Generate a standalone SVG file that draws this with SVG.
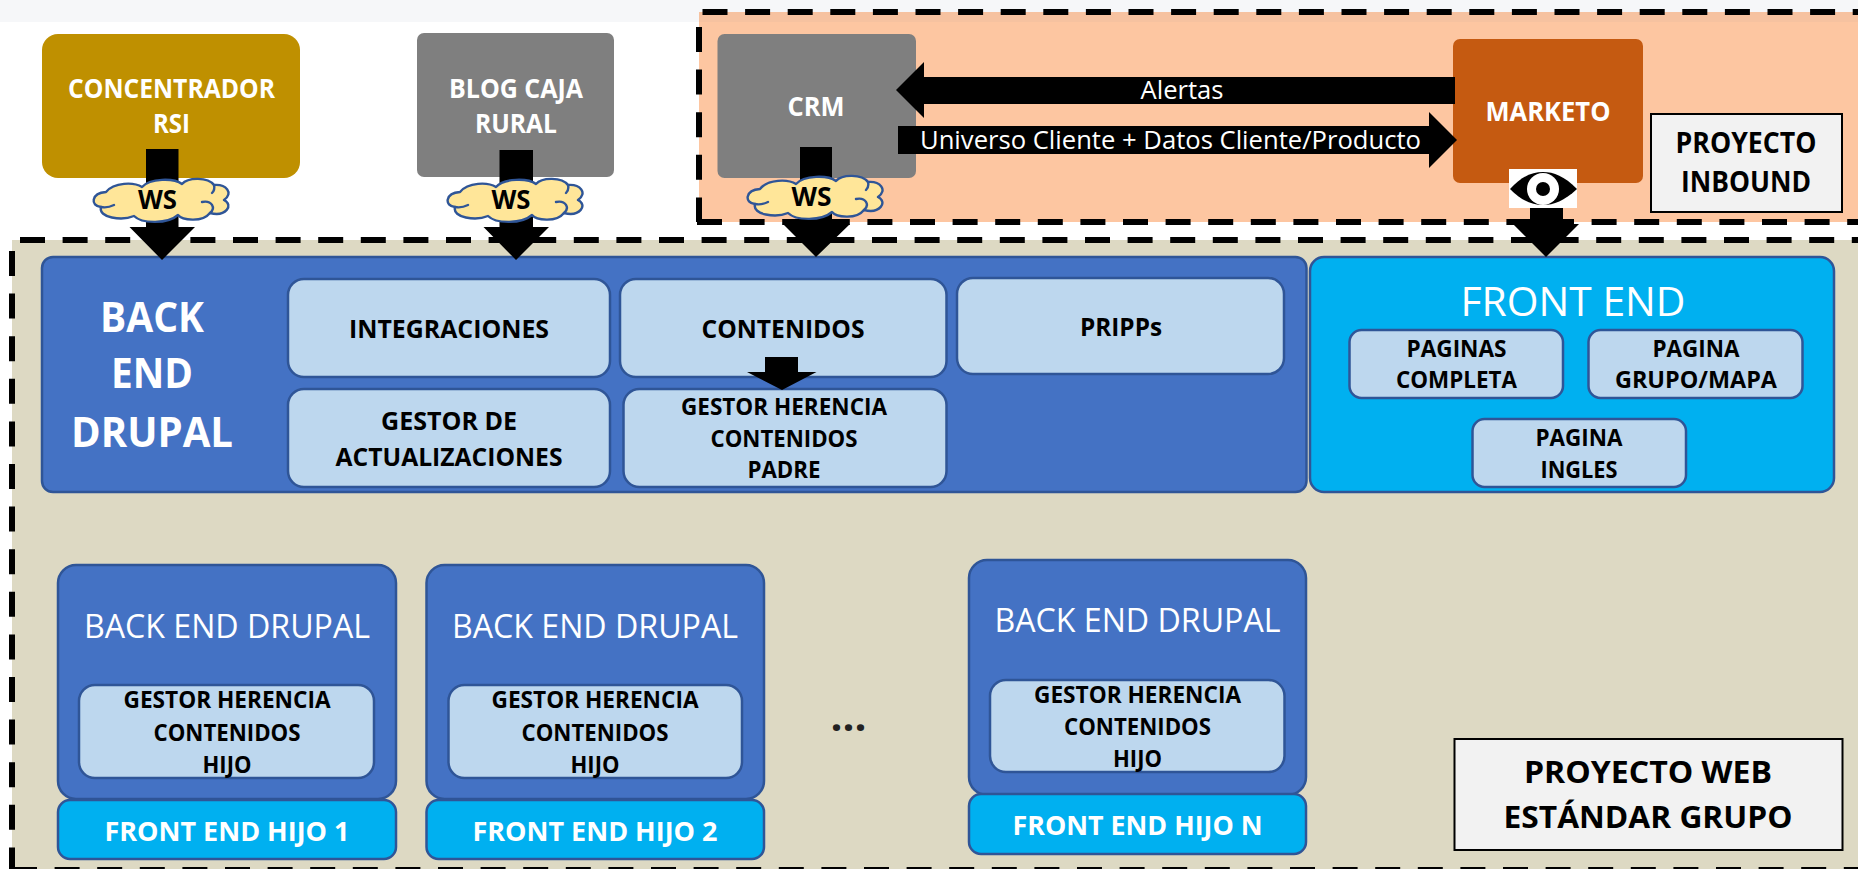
<svg xmlns="http://www.w3.org/2000/svg" width="1858" height="869" viewBox="0 0 1858 869">
<style>
text{font-family:"Open Sans",Lato,"Liberation Sans",sans-serif;text-anchor:middle}
.b{font-weight:700}
.w{fill:#fff}
.k{fill:#000}
.blue{fill:#4472c4;stroke:#2f5597;stroke-width:2.5}
.lt{fill:#bdd7ee;stroke:#2f5597;stroke-width:2.5}
.cy{fill:#00b0f0;stroke:#2f5597;stroke-width:2.5}
.box{fill:#f2f2f2;stroke:#000;stroke-width:2}
.d{stroke:#000;stroke-width:6;stroke-dasharray:25 17.6;fill:none}
.arr{fill:#000}
.cl{fill:#ffe699;stroke:#2f5597;stroke-width:2.4;stroke-linejoin:round}
.cl2{fill:none;stroke:#2f5597;stroke-width:2.4;stroke-linecap:round}
</style>
<defs>
<g id="cloud">
<path class="cl" d="M12 12C20 2 40 2 48 7C56-2 80-2 88 4C94-3 114-3 120 5C132 4 140 13 130 20C140 25 132 37 116 33C108 43 88 40 84 35C74 44 48 44 40 36C28 41 4 38 7 27C-4 26-3 13 12 12Z"/>
<path class="cl2" d="M7 27C12 28 16 27 20 25M108 22C118 20 122 28 116 33M120 5C121 9 120 11 118 13"/>
</g>
</defs>
<rect id="bg" width="1858" height="869" fill="#fff"/>
<rect id="strip" width="1858" height="22" fill="#f6f7f9"/>
<g id="inbound-area">
<rect x="699" y="12" width="1159" height="210" fill="#fdc6a1"/>
<rect x="699" y="12" width="1159" height="10" fill="#f6c2a0"/>
<path class="d" d="M702.500 12H1858"/>
<path class="d" d="M699 27V222"/>
<path class="d" d="M697 222H1858"/>
</g>
<g id="web-area">
<rect x="12" y="240" width="1846" height="629" fill="#ddd9c3"/>
<path class="d" d="M20 240H1858"/>
<path class="d" d="M12 251V869"/>
<path class="d" d="M12 870H1858"/>
</g>
<g id="concentrador"><rect x="42" y="34" width="258" height="144" rx="16" fill="#bf9000"/>
<text class="b w" font-size="27" x="171.500" y="98" textLength="207" lengthAdjust="spacingAndGlyphs">CONCENTRADOR</text>
<text class="b w" font-size="27" x="171.500" y="133" textLength="37" lengthAdjust="spacingAndGlyphs">RSI</text></g>
<g id="blog"><rect x="417" y="33" width="197" height="144" rx="7" fill="#7f7f7f"/>
<text class="b w" font-size="27" x="516" y="98" textLength="134" lengthAdjust="spacingAndGlyphs">BLOG CAJA</text>
<text class="b w" font-size="27" x="516" y="133" textLength="82" lengthAdjust="spacingAndGlyphs">RURAL</text></g>
<g id="crm"><rect x="717.500" y="34" width="198.500" height="144" rx="7" fill="#7f7f7f"/>
<text class="b w" font-size="26" x="816" y="116" textLength="57" lengthAdjust="spacingAndGlyphs">CRM</text></g>
<g id="marketo"><rect x="1453" y="39" width="190" height="144" rx="7" fill="#c55a11"/>
<text class="b w" font-size="26" x="1548" y="121" textLength="125" lengthAdjust="spacingAndGlyphs">MARKETO</text></g>
<g id="proyecto-inbound"><rect class="box" x="1651" y="114" width="191" height="98"/>
<text class="b k" font-size="28" x="1746" y="153" textLength="141" lengthAdjust="spacingAndGlyphs">PROYECTO</text>
<text class="b k" font-size="28" x="1746" y="192" textLength="130" lengthAdjust="spacingAndGlyphs">INBOUND</text></g>
<g id="backend"><rect class="blue" x="42" y="257" width="1264.500" height="235" rx="11"/>
<text class="b w" font-size="42" x="152" y="332" textLength="104" lengthAdjust="spacingAndGlyphs">BACK</text>
<text class="b w" font-size="42" x="152" y="388" textLength="82" lengthAdjust="spacingAndGlyphs">END</text>
<text class="b w" font-size="42" x="152" y="447" textLength="162" lengthAdjust="spacingAndGlyphs">DRUPAL</text></g>
<g id="integraciones"><rect class="lt" x="288" y="279" width="322" height="98" rx="16"/>
<text class="b k" font-size="25" x="449" y="338" textLength="200" lengthAdjust="spacingAndGlyphs">INTEGRACIONES</text></g>
<g id="contenidos"><rect class="lt" x="620" y="279" width="326.500" height="98" rx="16"/>
<text class="b k" font-size="25" x="783" y="338" textLength="163" lengthAdjust="spacingAndGlyphs">CONTENIDOS</text></g>
<g id="pripps"><rect class="lt" x="957" y="278" width="327" height="96" rx="16"/>
<text class="b k" font-size="25" x="1121" y="336" textLength="82" lengthAdjust="spacingAndGlyphs">PRIPPs</text></g>
<g id="gestor-actualizaciones"><rect class="lt" x="288" y="389" width="322" height="98" rx="16"/>
<text class="b k" font-size="25" x="449" y="430" textLength="136" lengthAdjust="spacingAndGlyphs">GESTOR DE</text>
<text class="b k" font-size="25" x="449" y="466" textLength="227" lengthAdjust="spacingAndGlyphs">ACTUALIZACIONES</text></g>
<g id="gestor-padre"><rect class="lt" x="623.500" y="389" width="323" height="98" rx="16"/>
<text class="b k" font-size="24" x="784" y="415" textLength="206" lengthAdjust="spacingAndGlyphs">GESTOR HERENCIA</text>
<text class="b k" font-size="24" x="784" y="447" textLength="147" lengthAdjust="spacingAndGlyphs">CONTENIDOS</text>
<text class="b k" font-size="24" x="784" y="478" textLength="73" lengthAdjust="spacingAndGlyphs">PADRE</text></g>
<g id="frontend"><rect class="cy" x="1310" y="257" width="524" height="235" rx="14"/>
<text class="w" font-size="41" x="1573" y="316" textLength="225" lengthAdjust="spacingAndGlyphs">FRONT END</text></g>
<g id="paginas-completa"><rect class="lt" x="1349.500" y="330" width="213.500" height="68" rx="12"/>
<text class="b k" font-size="24" x="1456.500" y="357" textLength="100" lengthAdjust="spacingAndGlyphs">PAGINAS</text>
<text class="b k" font-size="24" x="1456.500" y="388" textLength="121" lengthAdjust="spacingAndGlyphs">COMPLETA</text></g>
<g id="pagina-grupo"><rect class="lt" x="1588.500" y="330" width="214" height="68" rx="12"/>
<text class="b k" font-size="24" x="1696" y="357" textLength="87" lengthAdjust="spacingAndGlyphs">PAGINA</text>
<text class="b k" font-size="24" x="1696" y="388" textLength="162" lengthAdjust="spacingAndGlyphs">GRUPO/MAPA</text></g>
<g id="pagina-ingles"><rect class="lt" x="1472.500" y="419" width="213.500" height="68" rx="12"/>
<text class="b k" font-size="24" x="1579" y="446" textLength="87" lengthAdjust="spacingAndGlyphs">PAGINA</text>
<text class="b k" font-size="24" x="1579" y="478" textLength="77" lengthAdjust="spacingAndGlyphs">INGLES</text></g>
<g id="hijo1"><rect class="blue" x="58" y="565" width="338" height="234" rx="18"/>
<text class="w" font-size="33" x="227" y="638" textLength="286" lengthAdjust="spacingAndGlyphs">BACK END DRUPAL</text>
<rect class="lt" x="79" y="685" width="295" height="93" rx="16"/>
<text class="b k" font-size="24" x="227" y="708" textLength="207" lengthAdjust="spacingAndGlyphs">GESTOR HERENCIA</text>
<text class="b k" font-size="24" x="227" y="741" textLength="147" lengthAdjust="spacingAndGlyphs">CONTENIDOS</text>
<text class="b k" font-size="24" x="227" y="773" textLength="49" lengthAdjust="spacingAndGlyphs">HIJO</text></g>
<g id="front1"><rect class="cy" x="58" y="800" width="338" height="59" rx="12"/>
<text class="b w" font-size="27" x="227" y="841" textLength="245" lengthAdjust="spacingAndGlyphs">FRONT END HIJO 1</text></g>
<g id="hijo2"><rect class="blue" x="426.500" y="565" width="337.500" height="234" rx="18"/>
<text class="w" font-size="33" x="595" y="638" textLength="286" lengthAdjust="spacingAndGlyphs">BACK END DRUPAL</text>
<rect class="lt" x="448.500" y="685" width="293.500" height="93" rx="16"/>
<text class="b k" font-size="24" x="595" y="708" textLength="207" lengthAdjust="spacingAndGlyphs">GESTOR HERENCIA</text>
<text class="b k" font-size="24" x="595" y="741" textLength="147" lengthAdjust="spacingAndGlyphs">CONTENIDOS</text>
<text class="b k" font-size="24" x="595" y="773" textLength="49" lengthAdjust="spacingAndGlyphs">HIJO</text></g>
<g id="front2"><rect class="cy" x="426.500" y="800" width="337.500" height="59" rx="12"/>
<text class="b w" font-size="27" x="595" y="841" textLength="245" lengthAdjust="spacingAndGlyphs">FRONT END HIJO 2</text></g>
<g id="hijon"><rect class="blue" x="969" y="560" width="337" height="235" rx="18"/>
<text class="w" font-size="33" x="1137.500" y="632" textLength="286" lengthAdjust="spacingAndGlyphs">BACK END DRUPAL</text>
<rect class="lt" x="990" y="680" width="294.500" height="92" rx="16"/>
<text class="b k" font-size="24" x="1137.500" y="703" textLength="207" lengthAdjust="spacingAndGlyphs">GESTOR HERENCIA</text>
<text class="b k" font-size="24" x="1137.500" y="735" textLength="147" lengthAdjust="spacingAndGlyphs">CONTENIDOS</text>
<text class="b k" font-size="24" x="1137.500" y="767" textLength="49" lengthAdjust="spacingAndGlyphs">HIJO</text></g>
<g id="frontn"><rect class="cy" x="969" y="794" width="337" height="60" rx="12"/>
<text class="b w" font-size="27" x="1137.500" y="835" textLength="250" lengthAdjust="spacingAndGlyphs">FRONT END HIJO N</text></g>
<text id="ellipsis" class="b" font-size="42" fill="#222" x="848.500" y="731">...</text>
<g id="proyecto-web"><rect class="box" x="1454.500" y="739" width="388" height="111"/>
<text class="b k" font-size="31" x="1648" y="783" textLength="248" lengthAdjust="spacingAndGlyphs">PROYECTO WEB</text>
<text class="b k" font-size="31" x="1648" y="828" textLength="289" lengthAdjust="spacingAndGlyphs">ESTÁNDAR GRUPO</text></g>
<g id="connectors">
<path class="arr" d="M146 149H178.500V227H195L162 260L129.500 227H146Z"/>
<path class="arr" d="M499.500 150H533V227H549L516 260L483.500 227H499.500Z"/>
<path class="arr" d="M800 147H832V224H850L816 257L783 224H800Z"/>
<path class="arr" d="M1530 205H1563V224H1579L1546 257L1513 224H1530Z"/>
<path class="arr" d="M765 357H798V372H816.500L782 390L747 372H765Z"/>
<path class="arr" d="M1455 77H924V62L896 90L924 118V104H1455Z"/>
<path class="arr" d="M898 126H1429V112L1457 140L1429 168V154H898Z"/>
<text class="w" font-size="25" x="1182" y="99" textLength="83" lengthAdjust="spacingAndGlyphs">Alertas</text>
<text class="w" font-size="25" x="1170.500" y="149" textLength="501" lengthAdjust="spacingAndGlyphs">Universo Cliente + Datos Cliente/Producto</text>
</g>
<g id="ws1"><use href="#cloud" x="94" y="180"/><text class="b k" font-size="26" x="157.500" y="209" textLength="39" lengthAdjust="spacingAndGlyphs">WS</text></g>
<g id="ws2"><use href="#cloud" x="448" y="180"/><text class="b k" font-size="26" x="511" y="209" textLength="39" lengthAdjust="spacingAndGlyphs">WS</text></g>
<g id="ws3"><use href="#cloud" x="748" y="177"/><text class="b k" font-size="26" x="811.500" y="206" textLength="40" lengthAdjust="spacingAndGlyphs">WS</text></g>
<g id="eye"><rect x="1509" y="169" width="68" height="39" fill="#fff"/>
<path fill="#000" d="M1510 189C1522 176 1532 172 1543 172C1554 172 1564 176 1577 189C1564 201 1554 205 1543 205C1532 205 1522 201 1510 189Z"/>
<circle cx="1543" cy="189" r="16" fill="#fff"/><circle cx="1543" cy="189" r="7" fill="#000"/></g>
</svg>
